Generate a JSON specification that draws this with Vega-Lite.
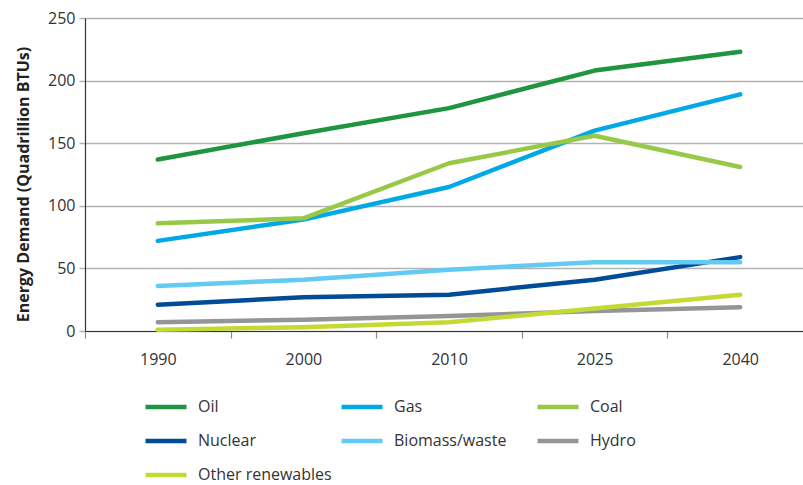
{
  "$schema": "https://vega.github.io/schema/vega-lite/v6.json",
  "autosize": {"type": "none"},
  "padding": {"left": 85, "top": 18, "right": 0, "bottom": 154},
  "width": 718,
  "height": 313,
  "background": "white",
  "config": {
    "view": {"stroke": null},
    "font": "Open Sans"
  },
  "data": {
    "values": [
      {"year": "1990", "source": "Oil", "demand": 137},
      {"year": "2000", "source": "Oil", "demand": 158},
      {"year": "2010", "source": "Oil", "demand": 178},
      {"year": "2025", "source": "Oil", "demand": 208},
      {"year": "2040", "source": "Oil", "demand": 223},
      {"year": "1990", "source": "Gas", "demand": 72},
      {"year": "2000", "source": "Gas", "demand": 89},
      {"year": "2010", "source": "Gas", "demand": 115},
      {"year": "2025", "source": "Gas", "demand": 160},
      {"year": "2040", "source": "Gas", "demand": 189},
      {"year": "1990", "source": "Coal", "demand": 86},
      {"year": "2000", "source": "Coal", "demand": 90},
      {"year": "2010", "source": "Coal", "demand": 134},
      {"year": "2025", "source": "Coal", "demand": 156},
      {"year": "2040", "source": "Coal", "demand": 131},
      {"year": "1990", "source": "Nuclear", "demand": 21},
      {"year": "2000", "source": "Nuclear", "demand": 27},
      {"year": "2010", "source": "Nuclear", "demand": 29},
      {"year": "2025", "source": "Nuclear", "demand": 41},
      {"year": "2040", "source": "Nuclear", "demand": 59},
      {"year": "1990", "source": "Biomass/waste", "demand": 36},
      {"year": "2000", "source": "Biomass/waste", "demand": 41},
      {"year": "2010", "source": "Biomass/waste", "demand": 49},
      {"year": "2025", "source": "Biomass/waste", "demand": 55},
      {"year": "2040", "source": "Biomass/waste", "demand": 55},
      {"year": "1990", "source": "Hydro", "demand": 7},
      {"year": "2000", "source": "Hydro", "demand": 9},
      {"year": "2010", "source": "Hydro", "demand": 12},
      {"year": "2025", "source": "Hydro", "demand": 16},
      {"year": "2040", "source": "Hydro", "demand": 19},
      {"year": "1990", "source": "Other renewables", "demand": 1},
      {"year": "2000", "source": "Other renewables", "demand": 3},
      {"year": "2010", "source": "Other renewables", "demand": 7},
      {"year": "2025", "source": "Other renewables", "demand": 18},
      {"year": "2040", "source": "Other renewables", "demand": 29}
    ]
  },
  "mark": {"type": "line", "strokeWidth": 4.5, "strokeCap": "round", "strokeJoin": "round"},
  "encoding": {
    "x": {
      "field": "year",
      "type": "ordinal",
      "sort": ["1990", "2000", "2010", "2025", "2040"],
      "scale": {"type": "band", "paddingInner": 0, "paddingOuter": 0, "range": [0, 728]},
      "axis": {
        "title": null,
        "grid": false,
        "labelAngle": 0,
        "tickBand": "extent",
        "domainColor": "#333333",
        "domainWidth": 1.2,
        "tickColor": "#8a8a8a",
        "tickSize": 7,
        "tickWidth": 1.2,
        "labelFontSize": 16,
        "labelColor": "#333333",
        "labelPadding": 13
      }
    },
    "y": {
      "field": "demand",
      "type": "quantitative",
      "scale": {"domain": [0, 250], "nice": false},
      "axis": {
        "title": "Energy Demand (Quadrillion BTUs)",
        "values": [0, 50, 100, 150, 200, 250],
        "titleFontSize": 16,
        "titleFontWeight": "bold",
        "titleColor": "#222222",
        "titlePadding": 16,
        "titleY": 166,
        "grid": true,
        "gridColor": "#b3b3b3",
        "gridWidth": 1.5,
        "domainColor": "#333333",
        "domainWidth": 1.2,
        "tickColor": "#b3b3b3",
        "tickSize": 6,
        "tickWidth": 1.5,
        "labelFontSize": 16,
        "labelColor": "#333333",
        "labelPadding": 4
      }
    },
    "color": {
      "field": "source",
      "type": "nominal",
      "scale": {
        "domain": ["Oil", "Gas", "Coal", "Nuclear", "Biomass/waste", "Hydro", "Other renewables"],
        "range": ["#1f9540", "#00a9e6", "#97c847", "#004c97", "#63caf3", "#939598", "#c5d935"]
      },
      "legend": {
        "title": null,
        "orient": "none",
        "legendX": 58,
        "legendY": 366,
        "direction": "horizontal",
        "columns": 3,
        "gridAlign": "all",
        "columnPadding": 0,
        "rowPadding": 2,
        "symbolType": "stroke",
        "symbolSize": 1681,
        "symbolStrokeWidth": 4.5,
        "labelFontSize": 16,
        "labelColor": "#333333",
        "labelOffset": 9
      }
    }
  }
}
